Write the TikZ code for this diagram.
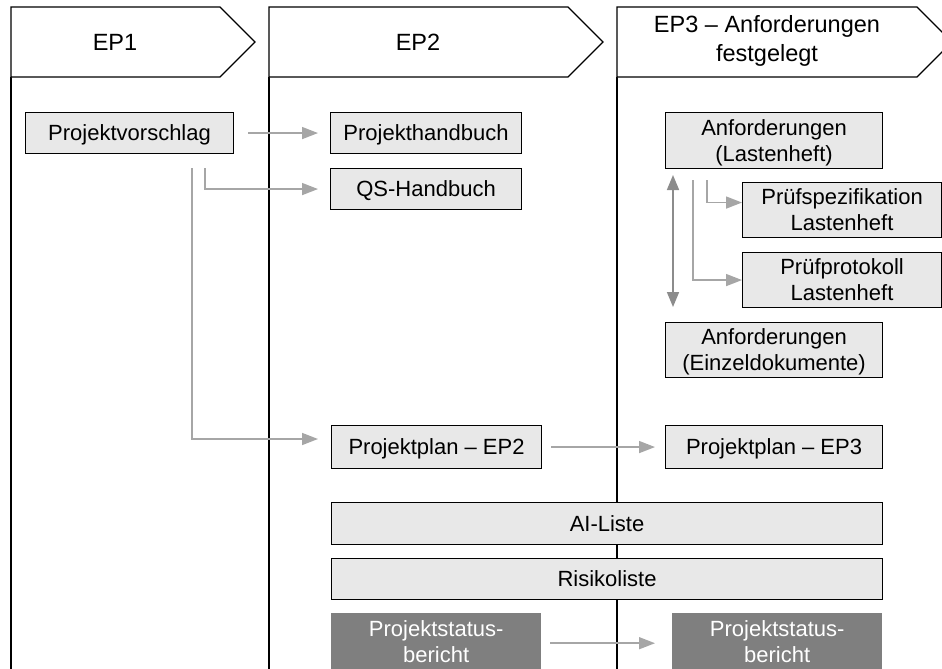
\documentclass[tikz,border=0pt]{standalone}
\usepackage{fontspec}
\setmainfont{Liberation Sans}
\usetikzlibrary{arrows.meta}
\definecolor{boxgray}{HTML}{E8E8E8}
\definecolor{statgray}{HTML}{7F7F7F}
\definecolor{conngray}{HTML}{A6A6A6}
\definecolor{dblgray}{HTML}{8C8C8C}
\begin{document}
\begin{tikzpicture}[x=1pt,y=-1pt,
  box/.style={draw=black, line width=1.1pt, fill=boxgray, align=center, inner sep=0pt,
    font=\fontsize{22}{26}\selectfont, anchor=north west},
  one/.style={text height=15.8pt, text depth=0pt},
  two/.style={text height=41.8pt, text depth=0pt},
  statbox/.style={fill=statgray, text=white, align=center, inner sep=0pt,
    font=\fontsize{22}{26}\selectfont, anchor=north west, text height=39.5pt, text depth=0pt},
  conn/.style={draw=conngray, line width=1.6pt, -{Triangle[length=16pt,width=12pt]}},
  dblconn/.style={draw=dblgray, line width=1.6pt, {Triangle[length=15pt,width=12pt]}-{Triangle[length=15pt,width=12pt]}},
  lane/.style={draw=black, line width=1.3pt},
  chev/.style={draw=black, line width=1.3pt, fill=white},
  headtext/.style={align=center, font=\fontsize{23.5}{29}\selectfont}
]
\useasboundingbox (0,0) rectangle (942,669);

% lane lines
\draw[lane] (11,77) -- (11,680);
\draw[lane] (269,77) -- (269,680);
\draw[lane] (617,77) -- (617,680);

% header chevrons
\draw[chev] (11,7) -- (220,7) -- (255,42) -- (220,77) -- (11,77) -- cycle;
\draw[chev] (269,7) -- (568,7) -- (603,42) -- (568,77) -- (269,77) -- cycle;
\draw[chev] (617,7) -- (917,7) -- (952,42) -- (917,77) -- (617,77) -- cycle;
\node[headtext] (h1) at (115,42) {EP1};
\node[headtext] (h2) at (418,42) {EP2};
\node[headtext] (h3) at (767,41) {EP3 – Anforderungen\\festgelegt};

% boxes
\node[box, one, minimum width=208pt, minimum height=41pt] (pv) at (25,112) {Projektvorschlag};
\node[box, one, minimum width=191pt, minimum height=41pt] (ph) at (330,112) {Projekthandbuch};
\node[box, one, minimum width=191pt, minimum height=41pt] (qs) at (330,168) {QS-Handbuch};
\node[box, one, minimum width=210pt, minimum height=43pt] (pp2) at (331,425) {Projektplan – EP2};
\node[box, one, minimum width=217pt, minimum height=43pt] (pp3) at (665,425) {Projektplan – EP3};
\node[box, two, minimum width=217pt, minimum height=56pt] (al) at (665,112) {Anforderungen\\(Lastenheft)};
\node[box, two, minimum width=199pt, minimum height=55pt] (ps) at (742,182) {Prüfspezifikation\\Lastenheft};
\node[box, two, minimum width=199pt, minimum height=55pt] (pk) at (742,252) {Prüfprotokoll\\Lastenheft};
\node[box, two, minimum width=217pt, minimum height=55pt] (ae) at (665,322) {Anforderungen\\(Einzeldokumente)};
\node[box, one, minimum width=551pt, minimum height=42pt] (ai) at (331,502) {AI-Liste};
\node[box, one, minimum width=551pt, minimum height=41pt] (rl) at (331,558) {Risikoliste};
\node[statbox, minimum width=210pt, minimum height=60pt] (st2) at (331,613) {Projektstatus-\\bericht};
\node[statbox, minimum width=210pt, minimum height=60pt] (st3) at (672,613) {Projektstatus-\\bericht};

% connectors
\coordinate (qsstart) at (205,168);
\coordinate (ppstart) at (192,168);
\coordinate (ppend) at (318,439);
\coordinate (ps1) at (707,180);
\coordinate (pk1) at (693,180);
\coordinate (dtop) at (673,175);
\coordinate (dbot) at (673,307);

\draw[conn, shorten <=14pt, shorten >=12pt] (pv.east) -- (ph.west);
\draw[conn, shorten >=12pt] (qsstart) |- (qs.west);
\draw[conn] (ppstart) |- (ppend);
\draw[conn, shorten <=9pt, shorten >=10pt] (pp2.east) -- (pp3.west);
\draw[conn, shorten <=9pt, shorten >=17pt] (st2.east) -- (st3.west);
\draw[conn] (ps1) |- ([yshift=7.5pt]ps.west);
\draw[conn] (pk1) |- (pk.west);
\draw[dblconn] (dtop) -- (dbot);
\end{tikzpicture}
\end{document}
